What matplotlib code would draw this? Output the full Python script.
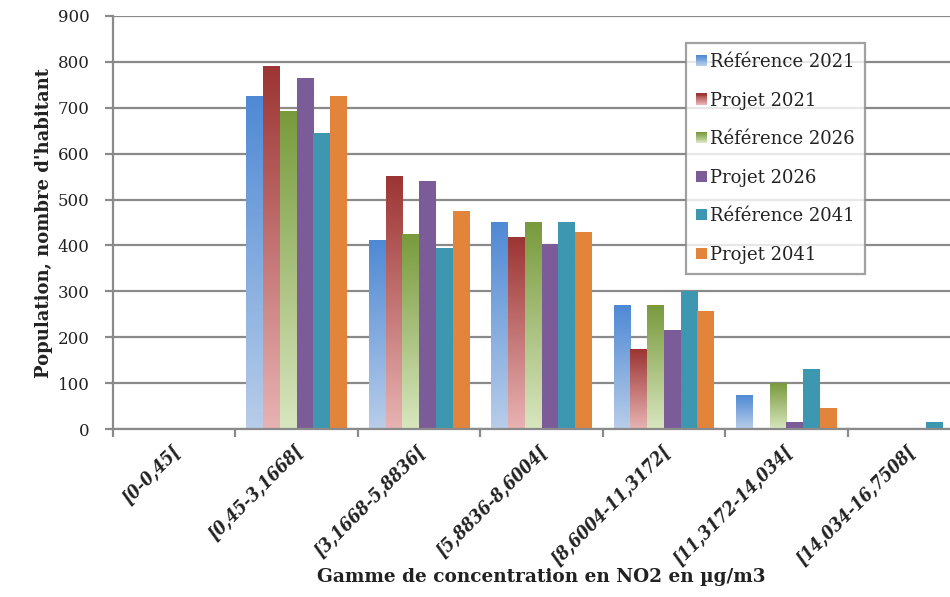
import numpy as np
import matplotlib
matplotlib.use("Agg")
import matplotlib.pyplot as plt
import matplotlib.transforms as mtransforms
from matplotlib.colors import LinearSegmentedColormap
from matplotlib.legend_handler import HandlerBase
from matplotlib.patches import Rectangle

plt.rcParams['font.family'] = ['DejaVu Serif']

categories = ["[0-0,45[", "[0,45-3,1668[", "[3,1668-5,8836[", "[5,8836-8,6004[",
              "[8,6004-11,3172[", "[11,3172-14,034[", "[14,034-16,7508["]

series_names = ["Référence 2021", "Projet 2021", "Référence 2026",
                "Projet 2026", "Référence 2041", "Projet 2041"]

ref_2021 = [0, 725, 410, 451, 269, 73, 0]
proj_2021 = [0, 790, 551, 417, 174, 0, 0]
ref_2026 = [0, 691, 423, 450, 269, 100, 0]
proj_2026 = [0, 763, 540, 401, 214, 14, 0]
ref_2041 = [0, 644, 393, 450, 299, 130, 14]
proj_2041 = [0, 725, 473, 428, 257, 45, 0]

series_values = [ref_2021, proj_2021, ref_2026, proj_2026, ref_2041, proj_2041]

# (top colour, bottom colour) for each series; identical pairs are flat fills
series_fills = [
    ("#4f89d4", "#b8cde9"),
    ("#9c3533", "#e8b3b3"),
    ("#789a3c", "#d8e6bf"),
    ("#7b5c99", "#7b5c99"),
    ("#3d97b0", "#3d97b0"),
    ("#e2843a", "#e2843a"),
]

W, H = 950, 597
fig = plt.figure(figsize=(W / 100, H / 100), dpi=100)
x0, x1, y_top, y_bot = 113, 970, 16, 429
ax = fig.add_axes([x0 / W, 1 - y_bot / H, (x1 - x0) / W, (y_bot - y_top) / H])

n_cat = len(categories)
n_ser = len(series_values)
group_w = 0.82
bar_w = group_w / n_ser
xc = np.arange(n_cat)

grid_col = "#8a8a8a"
text_col = "#222222"
ax.set_yticks(np.arange(0, 901, 100))
ax.yaxis.grid(True, color=grid_col, linewidth=1.6)
ax.set_axisbelow(True)

for s, vals in enumerate(series_values):
    top, bot = series_fills[s]
    cmap = LinearSegmentedColormap.from_list(f"fill{s}", [bot, top])
    grad = np.linspace(0, 1, 256).reshape(-1, 1)
    for i, v in enumerate(vals):
        if v <= 0:
            continue
        left = xc[i] - group_w / 2 + s * bar_w
        ax.imshow(grad, cmap=cmap, origin="lower", aspect="auto",
                  extent=(left, left + bar_w, 0, v), zorder=2, interpolation="bilinear")
ax.set_xlim(-0.5, n_cat - 0.5)
ax.set_ylim(0, 900)

for side in ("top", "right"):
    ax.spines[side].set_visible(False)
for side in ("left", "bottom"):
    ax.spines[side].set_color(grid_col)
    ax.spines[side].set_linewidth(1.6)

ax.tick_params(axis="y", direction="out", length=6, width=1.6, color=grid_col,
               labelsize=12, labelcolor=text_col, pad=11)
ax.set_xticks(xc)
ax.set_xticks(np.arange(-0.5, n_cat, 1.0), minor=True)
ax.tick_params(axis="x", which="major", length=0, pad=14)
ax.tick_params(axis="x", which="minor", direction="out", length=6, width=1.6, color=grid_col)
ax.set_xticklabels(categories, rotation=45, ha="right", va="center",
                   rotation_mode="anchor", fontsize=13.2, fontstyle="italic",
                   fontweight="bold", fontstretch="condensed", color=text_col)
shift = mtransforms.ScaledTranslation(4 / 100, 0, fig.dpi_scale_trans)
for lbl in ax.get_xticklabels():
    lbl.set_transform(lbl.get_transform() + shift)

ax.set_ylabel("Population, nombre d'habitant", fontsize=13, fontweight="bold",
              color=text_col, labelpad=3)
fig.text(541 / W, 1 - 577 / H, "Gamme de concentration en NO2 en µg/m3",
         ha="center", va="center", fontsize=13.3, fontweight="bold", color=text_col)


class GradientHandler(HandlerBase):
    def __init__(self, top, bot):
        super().__init__()
        self.top, self.bot = top, bot

    def create_artists(self, legend, orig_handle, xdescent, ydescent, width,
                       height, fontsize, trans):
        cmap = LinearSegmentedColormap.from_list("h", [self.bot, self.top])
        size = min(width, height)
        x = -xdescent + (width - size)
        y = -ydescent + (height - size) / 2
        n = 12
        arts = []
        for k in range(n):
            r = Rectangle((x, y + k * size / n), size, size / n + 0.2,
                          facecolor=cmap(k / (n - 1)), edgecolor="none",
                          transform=trans)
            arts.append(r)
        return arts


handles = [Rectangle((0, 0), 1, 1) for _ in series_names]
handler_map = {h: GradientHandler(*series_fills[i]) for i, h in enumerate(handles)}
leg = fig.legend(handles, series_names, handler_map=handler_map,
                 loc="upper left", bbox_to_anchor=(686 / W, 1 - 43 / H),
                 bbox_transform=fig.transFigure, borderaxespad=0,
                 fontsize=13, frameon=True, fancybox=False, labelspacing=1.14,
                 handlelength=0.6, handleheight=0.6, handletextpad=0.2,
                 borderpad=0.55)
leg.get_frame().set_edgecolor(grid_col)
leg.get_frame().set_linewidth(1.6)
for t in leg.get_texts():
    t.set_color(text_col)

fig.savefig("out.png", dpi=100)
